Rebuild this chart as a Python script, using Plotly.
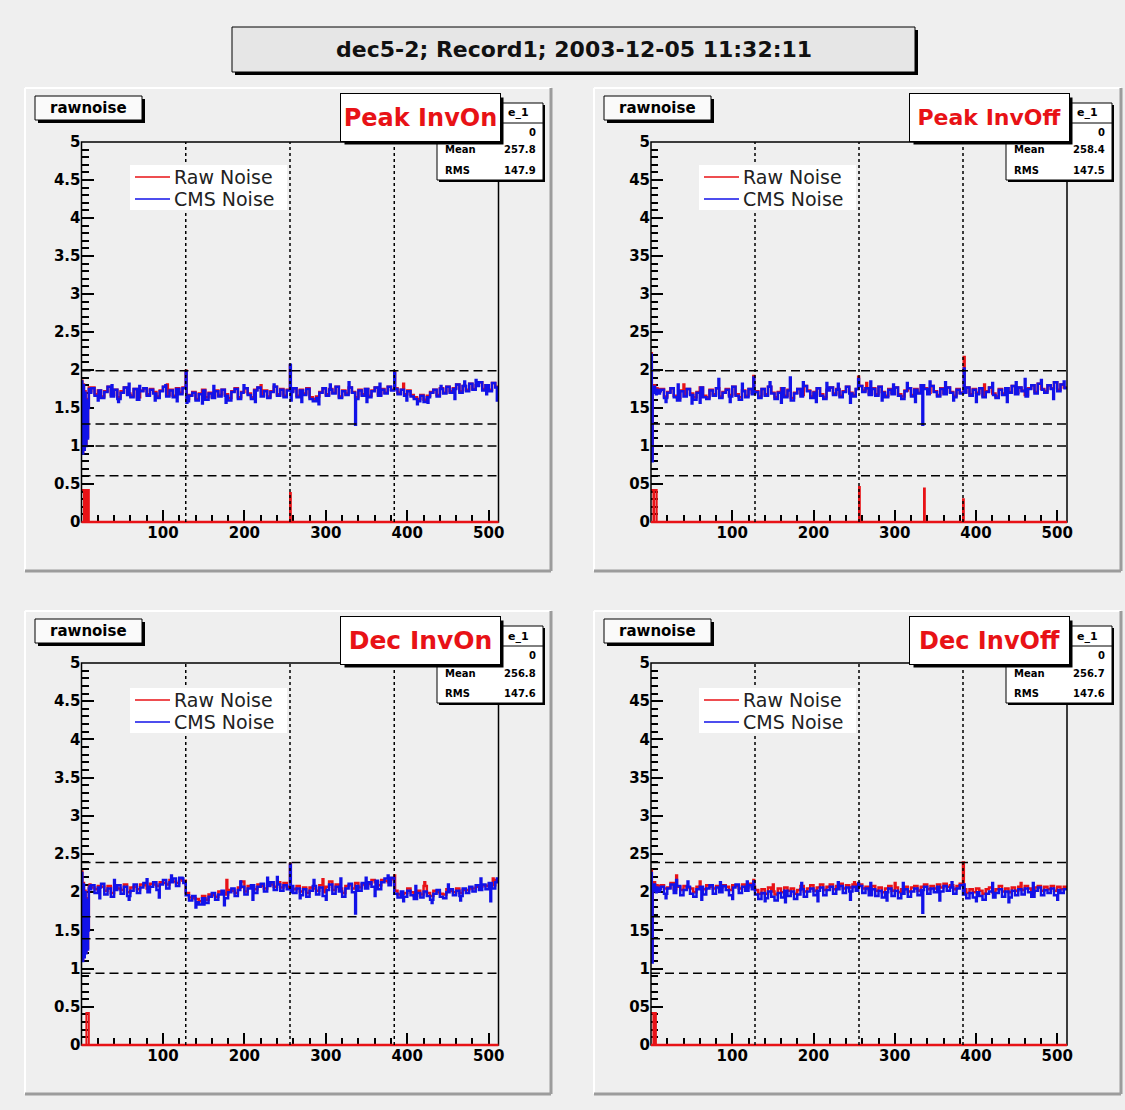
import plotly.graph_objects as go

# ---------------- text ----------------
title_text = "dec5-2; Record1; 2003-12-05 11:32:11"
hist_title = "rawnoise"
stats_title_visible = "e_1"          # visible tail of the stats title (rest hidden behind the label box)
panel_labels = ["Peak InvOn", "Peak InvOff", "Dec InvOn", "Dec InvOff"]
legend_names = ["Raw Noise", "CMS Noise"]
stats_labels = ["", "Mean", "RMS"]
stats_entries = ["0", "0", "0", "0"]
stats_mean = ["257.8", "258.4", "256.8", "256.7"]
stats_rms = ["147.9", "147.5", "147.6", "147.6"]

# ---------------- axes ----------------
n_strips = 512
bin_width = 4      # body values each cover 4 strips (after the 12 head strips)
x_tick_vals = [100, 200, 300, 400, 500]
x_tick_text = ["100", "200", "300", "400", "500"]
y_tick_vals = [0, 0.5, 1, 1.5, 2, 2.5, 3, 3.5, 4, 4.5, 5]
y_tick_text_a = ["0", "0.5", "1", "1.5", "2", "2.5", "3", "3.5", "4", "4.5", "5"]
y_tick_text_b = ["0", "05", "1", "15", "2", "25", "3", "35", "4", "45", "5"]
chip_edges = [128, 256, 384]
thresholds = [[1.99, 1.29, 1.00, 0.61],
              [1.99, 1.29, 1.00, 0.61],
              [2.39, 1.68, 1.39, 0.94],
              [2.39, 1.68, 1.39, 0.94]]

# ---------------- Peak InvOn ----------------
p1_cms_head = [1.85, 0.90, 1.80, 0.95, 1.70, 1.00, 1.60, 1.10, 1.50, 1.75, 1.72, 1.70]
p1_cms_body = [
    1.76, 1.66, 1.73, 1.63, 1.71, 1.78, 1.65, 1.74, 1.62, 1.70,
    1.77, 1.67, 1.64, 1.75, 1.61, 1.72, 1.76, 1.66, 1.74, 1.69,
    1.63, 1.72, 1.78, 1.65, 1.73, 1.64, 1.75, 1.68, 1.76,
    1.59, 1.66, 1.70, 1.60, 1.68, 1.73, 1.61, 1.69, 1.63, 1.72,
    1.65, 1.74, 1.66, 1.60, 1.71, 1.75, 1.62, 1.70, 1.76, 1.67,
    1.62, 1.73, 1.77, 1.65, 1.72, 1.63, 1.71, 1.78, 1.66, 1.74,
    1.64, 1.73,
    1.71, 1.76, 1.64, 1.73, 1.67, 1.75, 1.62, 1.59, 1.63, 1.70,
    1.76, 1.66, 1.74, 1.69, 1.78, 1.63, 1.72, 1.67, 1.77, 1.70,
    1.62, 1.73, 1.66, 1.75, 1.64, 1.72, 1.77, 1.66, 1.74, 1.69,
    1.78, 1.73,
    1.75, 1.68, 1.74, 1.66, 1.72, 1.65, 1.62, 1.59, 1.66, 1.58,
    1.64, 1.70, 1.74, 1.65, 1.75, 1.69, 1.78, 1.70, 1.75, 1.81,
    1.70, 1.79, 1.72, 1.82, 1.74, 1.79, 1.84, 1.73, 1.80, 1.72,
    1.83, 1.77]
p1_cms_spike_strips = [58, 128, 129, 148, 256, 257, 328, 336, 384, 484, 510,
                       20, 37, 45, 71, 90, 103, 117, 162, 177, 199, 213, 236,
                       270, 291, 305, 350, 366, 399, 412, 425, 441, 458, 470, 497]
p1_cms_spike_vals = [1.82, 1.98, 1.57, 1.56, 2.07, 1.60, 1.84, 1.28, 1.96, 1.87, 1.60,
                     1.60, 1.80, 1.58, 1.79, 1.60, 1.80, 1.59, 1.79, 1.57, 1.80, 1.58, 1.81,
                     1.58, 1.55, 1.81, 1.58, 1.82, 1.60, 1.55, 1.57, 1.79, 1.62, 1.85, 1.68]
p1_raw_head = [1.86, 0.92, 1.81, 0.97, 1.72, 1.02, 1.62, 1.12, 1.52, 1.77, 1.74, 1.72]
p1_raw_body = [
    1.77, 1.68, 1.73, 1.65, 1.72, 1.78, 1.67, 1.74, 1.64, 1.72,
    1.77, 1.69, 1.66, 1.75, 1.64, 1.73, 1.76, 1.68, 1.75, 1.71,
    1.65, 1.73, 1.78, 1.67, 1.74, 1.66, 1.76, 1.70, 1.77,
    1.62, 1.67, 1.71, 1.62, 1.69, 1.74, 1.64, 1.70, 1.65, 1.73,
    1.67, 1.74, 1.68, 1.63, 1.72, 1.76, 1.64, 1.71, 1.76, 1.69,
    1.64, 1.74, 1.77, 1.67, 1.73, 1.65, 1.72, 1.78, 1.68, 1.75,
    1.66, 1.74,
    1.73, 1.76, 1.66, 1.74, 1.69, 1.76, 1.64, 1.62, 1.65, 1.71,
    1.76, 1.68, 1.75, 1.70, 1.78, 1.65, 1.73, 1.69, 1.77, 1.71,
    1.64, 1.74, 1.68, 1.75, 1.66, 1.73, 1.77, 1.68, 1.75, 1.70,
    1.78, 1.74,
    1.76, 1.70, 1.74, 1.68, 1.73, 1.67, 1.64, 1.62, 1.67, 1.61,
    1.66, 1.71, 1.74, 1.67, 1.76, 1.70, 1.78, 1.72, 1.76, 1.81,
    1.72, 1.79, 1.74, 1.82, 1.75, 1.80, 1.84, 1.75, 1.80, 1.74,
    1.83, 1.78]
p1_raw_spike_strips = [128, 256, 384, 105, 220, 395]
p1_raw_spike_vals = [1.99, 2.06, 1.97, 1.81, 1.80, 1.82]
p1_flag_strips = [0, 1, 2, 4, 5, 7, 8, 256]
p1_flag_vals = [0.42, 0.42, 0.42, 0.42, 0.42, 0.42, 0.42, 0.38]

# ---------------- Peak InvOff ----------------
p2_cms_head = [2.20, 0.80, 1.75, 1.70, 1.78, 1.72, 1.68, 1.74, 1.70, 1.73, 1.69, 1.72]
p2_cms_body = [
    1.74, 1.63, 1.70, 1.76, 1.64, 1.60, 1.72, 1.65, 1.75, 1.67,
    1.61, 1.70, 1.77, 1.64, 1.62, 1.73, 1.66, 1.76, 1.63, 1.70,
    1.74, 1.65, 1.78, 1.66, 1.61, 1.72, 1.64, 1.75, 1.68,
    1.71, 1.63, 1.75, 1.66, 1.78, 1.69, 1.62, 1.70, 1.76, 1.64,
    1.73, 1.60, 1.69, 1.75, 1.65, 1.79, 1.72, 1.63, 1.70, 1.76,
    1.66, 1.62, 1.73, 1.77, 1.67, 1.74, 1.64, 1.71, 1.78, 1.69,
    1.65, 1.75,
    1.79, 1.71, 1.76, 1.67, 1.75, 1.66, 1.78, 1.70, 1.64, 1.74,
    1.68, 1.77, 1.66, 1.62, 1.72, 1.76, 1.65, 1.74, 1.69, 1.80,
    1.75, 1.68, 1.79, 1.71, 1.65, 1.75, 1.68, 1.77, 1.70, 1.64,
    1.74, 1.69,
    1.70, 1.77, 1.66, 1.74, 1.68, 1.76, 1.64, 1.71, 1.77, 1.67,
    1.63, 1.74, 1.67, 1.76, 1.70, 1.79, 1.68, 1.77, 1.72, 1.65,
    1.75, 1.80, 1.69, 1.82, 1.74, 1.70, 1.80, 1.75, 1.84, 1.72,
    1.81, 1.76]
p2_cms_spike_strips = [60, 83, 126, 146, 171, 216, 255, 298, 334, 343, 385, 460, 480, 508,
                       18, 33, 50, 97, 112, 160, 187, 203, 230, 245, 270, 284,
                       315, 325, 362, 372, 400, 420, 438, 449, 495]
p2_cms_spike_vals = [1.57, 1.88, 1.90, 1.84, 1.90, 1.83, 1.88, 1.81, 1.28, 1.85, 2.02, 1.88, 1.87, 1.85,
                     1.58, 1.81, 1.56, 1.58, 1.82, 1.57, 1.84, 1.58, 1.82, 1.57, 1.85, 1.60,
                     1.83, 1.58, 1.84, 1.60, 1.58, 1.83, 1.58, 1.84, 1.62]
p2_raw_head = [2.22, 0.85, 1.78, 1.73, 1.80, 1.75, 1.70, 1.76, 1.72, 1.75, 1.71, 1.74]
p2_raw_body = [
    1.75, 1.65, 1.71, 1.76, 1.66, 1.63, 1.73, 1.67, 1.75, 1.69,
    1.64, 1.71, 1.77, 1.66, 1.64, 1.74, 1.68, 1.76, 1.65, 1.71,
    1.75, 1.67, 1.78, 1.68, 1.64, 1.73, 1.66, 1.75, 1.70,
    1.72, 1.65, 1.75, 1.68, 1.78, 1.70, 1.64, 1.71, 1.76, 1.66,
    1.74, 1.63, 1.70, 1.75, 1.67, 1.79, 1.73, 1.65, 1.71, 1.76,
    1.68, 1.64, 1.74, 1.77, 1.69, 1.75, 1.66, 1.72, 1.78, 1.70,
    1.67, 1.75,
    1.79, 1.73, 1.76, 1.69, 1.76, 1.68, 1.78, 1.71, 1.66, 1.75,
    1.70, 1.77, 1.68, 1.65, 1.73, 1.76, 1.67, 1.75, 1.70, 1.80,
    1.76, 1.70, 1.79, 1.72, 1.67, 1.76, 1.70, 1.77, 1.71, 1.66,
    1.75, 1.70,
    1.71, 1.77, 1.68, 1.75, 1.70, 1.76, 1.66, 1.72, 1.77, 1.69,
    1.65, 1.75, 1.69, 1.76, 1.71, 1.79, 1.70, 1.77, 1.73, 1.67,
    1.76, 1.80, 1.71, 1.82, 1.75, 1.72, 1.80, 1.76, 1.84, 1.74,
    1.81, 1.77]
p2_raw_spike_strips = [126, 255, 385, 40, 265, 410]
p2_raw_spike_vals = [1.92, 1.91, 2.17, 1.81, 1.83, 1.81]
p2_flag_strips = [0, 1, 2, 4, 5, 6, 256, 336, 384]
p2_flag_vals = [0.42, 0.42, 0.42, 0.42, 0.42, 0.42, 0.46, 0.44, 0.30]

# ---------------- Dec InvOn ----------------
p3_cms_head = [2.25, 1.10, 2.10, 1.15, 2.00, 1.20, 1.90, 1.25, 1.50, 2.05, 2.08, 2.04]
p3_cms_body = [
    2.09, 1.99, 2.06, 2.11, 1.97, 2.05, 1.94, 2.03, 2.09, 1.98,
    2.07, 1.95, 2.02, 2.10, 1.99, 2.06, 2.12, 2.00, 2.07, 2.13,
    2.03, 2.10, 2.16, 2.05, 2.13, 2.18, 2.08, 2.19, 2.12,
    1.96, 1.89, 1.95, 1.87, 1.84, 1.92, 1.86, 1.94, 1.99, 1.90,
    1.97, 2.02, 1.92, 2.00, 2.05, 1.95, 2.03, 2.07, 1.97, 2.05,
    2.09, 1.99, 2.07, 2.11, 2.01, 2.08, 2.13, 2.03, 2.10, 2.02,
    2.09, 2.04,
    2.08, 1.99, 2.05, 1.96, 2.04, 1.94, 2.02, 2.08, 1.97, 2.06,
    1.95, 2.03, 2.10, 1.98, 2.07, 2.01, 1.94, 2.05, 2.11, 2.00,
    2.08, 2.02, 2.12, 2.05, 2.13, 2.07, 2.15, 2.04, 2.13, 2.18,
    2.09, 2.19,
    1.98, 1.93, 2.01, 1.94, 2.02, 1.96, 1.91, 1.99, 1.93, 2.01,
    1.95, 1.90, 1.98, 2.03, 1.94, 1.92, 2.00, 2.04, 1.96, 2.02,
    1.95, 2.05, 1.99, 2.07, 2.01, 2.09, 2.03, 2.10, 2.04, 2.12,
    2.05, 2.13]
p3_cms_spike_strips = [124, 150, 228, 256, 257, 336, 349, 376, 502, 510,
                       22, 40, 58, 80, 95, 110, 140, 175, 195, 210, 240,
                       268, 285, 300, 318, 360, 395, 410, 430, 450, 465, 490]
p3_cms_spike_vals = [2.18, 1.84, 2.19, 2.36, 2.00, 1.72, 2.19, 2.22, 1.88, 2.18,
                     1.92, 2.16, 1.90, 2.17, 1.93, 2.22, 1.80, 1.83, 2.14, 1.90, 2.20,
                     1.92, 2.16, 1.90, 2.18, 1.95, 1.88, 2.08, 1.86, 2.10, 1.89, 2.18]
p3_raw_head = [2.27, 1.12, 2.12, 1.17, 2.02, 1.22, 1.92, 1.27, 1.52, 2.07, 2.10, 2.06]
p3_raw_body = [
    2.06, 2.04, 2.08, 2.07, 2.02, 2.08, 1.99, 2.06, 2.05, 2.03,
    2.10, 2.00, 2.06, 2.07, 2.04, 2.10, 2.09, 2.05, 2.11, 2.10,
    2.08, 2.13, 2.12, 2.10, 2.16, 2.14, 2.12, 2.17, 2.15,
    1.99, 1.93, 1.92, 1.91, 1.88, 1.95, 1.90, 1.97, 1.96, 1.94,
    2.01, 1.99, 1.97, 2.03, 2.02, 1.99, 2.06, 2.14, 2.01, 2.08,
    2.06, 2.04, 2.10, 2.08, 2.05, 2.11, 2.10, 2.07, 2.13, 2.06,
    2.12, 2.07,
    2.05, 2.04, 2.08, 2.01, 2.06, 1.99, 2.06, 2.05, 2.02, 2.09,
    2.00, 2.07, 2.14, 2.03, 2.10, 2.05, 1.99, 2.08, 2.09, 2.05,
    2.12, 2.06, 2.10, 2.09, 2.11, 2.16, 2.13, 2.09, 2.16, 2.15,
    2.13, 2.17,
    2.02, 1.97, 1.98, 1.99, 2.05, 2.00, 1.95, 2.02, 1.97, 2.08,
    1.99, 1.95, 2.02, 2.00, 1.98, 1.97, 2.04, 2.02, 2.00, 2.05,
    1.99, 2.03, 2.03, 2.05, 2.05, 2.07, 2.07, 2.09, 2.08, 2.10,
    2.09, 2.16]
p3_raw_spike_strips = [256, 384, 178, 296, 421, 505]
p3_raw_spike_vals = [2.37, 2.22, 2.16, 2.17, 2.13, 2.18]
p3_flag_strips = [6, 7, 8]
p3_flag_vals = [0.42, 0.42, 0.42]

# ---------------- Dec InvOff ----------------
p4_cms_head = [2.25, 1.08, 2.05, 2.02, 2.10, 2.04, 2.00, 2.06, 2.02, 2.05, 2.01, 2.04]
p4_cms_body = [
    2.07, 1.98, 2.05, 2.10, 1.99, 2.08, 1.96, 2.03, 2.07, 1.98,
    1.94, 2.04, 2.07, 1.97, 2.05, 2.09, 1.98, 2.06, 2.00, 2.08,
    2.03, 1.96, 2.06, 2.10, 1.99, 2.07, 2.02, 2.09, 2.04,
    1.97, 1.91, 1.99, 1.92, 2.01, 1.94, 1.89, 1.99, 1.93, 2.02,
    1.95, 2.01, 1.91, 1.97, 2.04, 1.94, 2.01, 2.05, 1.96, 2.02,
    2.06, 1.96, 2.03, 2.07, 1.98, 2.04, 2.08, 1.99, 2.06, 2.01,
    2.07, 2.02,
    2.08, 1.99, 2.05, 1.96, 2.04, 1.95, 2.02, 1.93, 2.00, 2.05,
    1.95, 2.02, 1.92, 1.98, 2.04, 1.94, 2.01, 2.05, 1.96, 2.03,
    2.07, 1.98, 2.05, 2.00, 2.07, 2.01, 2.08, 2.02, 2.06, 1.98,
    2.05, 2.09,
    1.97, 1.92, 1.99, 1.93, 2.00, 1.95, 1.90, 1.98, 2.01, 1.93,
    1.99, 2.04, 1.94, 2.01, 1.93, 2.02, 1.96, 2.04, 1.97, 2.05,
    2.00, 1.94, 2.02, 2.06, 1.96, 2.03, 1.99, 2.05, 1.96, 2.03,
    1.99, 2.04]
p4_cms_spike_strips = [31, 126, 255, 334, 385,
                       18, 45, 62, 85, 100, 118, 140, 165, 185, 205, 230,
                       245, 270, 290, 310, 355, 370, 400, 420, 440, 470, 500]
p4_cms_spike_vals = [2.16, 2.14, 2.12, 1.73, 2.10,
                     1.92, 2.14, 1.90, 2.13, 1.91, 2.14, 1.88, 1.87, 2.12, 1.88, 2.13,
                     1.90, 2.12, 1.89, 2.12, 1.89, 2.13, 1.88, 2.12, 1.87, 2.12, 1.90]
p4_raw_head = [2.28, 1.11, 2.08, 2.05, 2.13, 2.07, 2.03, 2.09, 2.05, 2.08, 2.04, 2.07]
p4_raw_body = [
    2.09, 2.05, 2.06, 2.12, 2.04, 2.07, 2.03, 2.08, 2.06, 2.05,
    2.00, 2.07, 2.05, 2.04, 2.09, 2.07, 2.05, 2.08, 2.06, 2.09,
    2.07, 2.03, 2.09, 2.08, 2.05, 2.10, 2.06, 2.11, 2.07,
    2.03, 1.98, 2.04, 1.98, 2.06, 2.01, 1.97, 2.05, 2.00, 2.06,
    2.02, 2.05, 1.98, 2.03, 2.08, 2.01, 2.05, 2.09, 2.02, 2.06,
    2.10, 2.03, 2.07, 2.10, 2.04, 2.08, 2.11, 2.05, 2.09, 2.06,
    2.10, 2.06,
    2.10, 2.05, 2.07, 2.03, 2.08, 2.02, 2.06, 2.00, 2.05, 2.08,
    2.02, 2.06, 2.00, 2.04, 2.07, 2.01, 2.06, 2.08, 2.02, 2.07,
    2.10, 2.04, 2.08, 2.05, 2.10, 2.06, 2.11, 2.07, 2.09, 2.04,
    2.08, 2.11,
    2.04, 1.99, 2.04, 2.00, 2.05, 2.02, 1.98, 2.04, 2.06, 2.00,
    2.04, 2.08, 2.01, 2.05, 2.00, 2.06, 2.02, 2.07, 2.03, 2.08,
    2.05, 2.00, 2.06, 2.08, 2.02, 2.07, 2.04, 2.08, 2.02, 2.07,
    2.04, 2.07]
p4_raw_spike_strips = [31, 126, 384, 60, 150, 250, 300, 455]
p4_raw_spike_vals = [2.22, 2.16, 2.39, 2.14, 2.10, 2.13, 2.12, 2.12]
p4_flag_strips = [0, 1, 2, 4, 5]
p4_flag_vals = [0.42, 0.42, 0.42, 0.42, 0.42]


def build(head, body, spike_strips, spike_vals):
    arr = list(head)
    for v in body:
        arr.extend([v] * bin_width)
    arr = arr[:n_strips]
    for s, v in zip(spike_strips, spike_vals):
        if s < len(arr):
            arr[s] = v
    return arr


def build_flags(strips, vals):
    arr = [0.0] * n_strips
    for s, v in zip(strips, vals):
        arr[s] = v
    return arr


panels = [
    dict(raw=build(p1_raw_head, p1_raw_body, p1_raw_spike_strips, p1_raw_spike_vals),
         cms=build(p1_cms_head, p1_cms_body, p1_cms_spike_strips, p1_cms_spike_vals),
         flag=build_flags(p1_flag_strips, p1_flag_vals)),
    dict(raw=build(p2_raw_head, p2_raw_body, p2_raw_spike_strips, p2_raw_spike_vals),
         cms=build(p2_cms_head, p2_cms_body, p2_cms_spike_strips, p2_cms_spike_vals),
         flag=build_flags(p2_flag_strips, p2_flag_vals)),
    dict(raw=build(p3_raw_head, p3_raw_body, p3_raw_spike_strips, p3_raw_spike_vals),
         cms=build(p3_cms_head, p3_cms_body, p3_cms_spike_strips, p3_cms_spike_vals),
         flag=build_flags(p3_flag_strips, p3_flag_vals)),
    dict(raw=build(p4_raw_head, p4_raw_body, p4_raw_spike_strips, p4_raw_spike_vals),
         cms=build(p4_cms_head, p4_cms_body, p4_cms_spike_strips, p4_cms_spike_vals),
         flag=build_flags(p4_flag_strips, p4_flag_vals)),
]

# ---------------- layout geometry (pixels) ----------------
W, H = 1125, 1110
BG = "#efefef"
RED = "rgb(232,18,22)"
BLUE = "rgb(18,18,232)"
frames = [(81.5, 142, 498.5, 522), (651, 142, 1067, 522),
          (81.5, 663, 498.5, 1045), (651, 663, 1067, 1045)]
pads = [(25, 88, 551, 571), (594, 88, 1121, 571),
        (25, 611, 551, 1094), (594, 611, 1121, 1094)]
label_sizes = [24, 22, 25, 24]
ytext = [y_tick_text_a, y_tick_text_b, y_tick_text_a, y_tick_text_b]


def px(x):
    return x / W


def py(y):
    return 1 - y / H


shapes = []
annotations = []


def rect(x0, y0, x1, y1, fill=None, line_color=None, lw=1, layer="above"):
    d = dict(type="rect", xref="paper", yref="paper",
             x0=px(x0), x1=px(x1), y0=py(y1), y1=py(y0), layer=layer,
             line=dict(color=line_color or "rgba(0,0,0,0)", width=lw if line_color else 0))
    if fill:
        d["fillcolor"] = fill
    shapes.append(d)


def pline(x0, y0, x1, y1, color, lw=1, dash="solid", layer="above"):
    shapes.append(dict(type="line", xref="paper", yref="paper",
                       x0=px(x0), x1=px(x1), y0=py(y0), y1=py(y1), layer=layer,
                       line=dict(color=color, width=lw, dash=dash)))


def text(x, y, s, size, color="black", bold=False, family="DejaVu Sans",
         xanchor="center", **kw):
    if not s:
        return
    annotations.append(dict(xref="paper", yref="paper", x=px(x), y=py(y), text=s,
                            showarrow=False, xanchor=xanchor, yanchor="middle",
                            font=dict(family=family, size=size, color=color,
                                      weight="bold" if bold else "normal"), **kw))


fig = go.Figure()

# title box
rect(235, 30, 918, 75, fill="black", layer="below")
rect(232, 27, 915, 72, fill="#e6e6e6", line_color="black", lw=1, layer="below")
text(573.5, 49.5, title_text, 22, color="#111", bold=True)

for i, p in enumerate(panels):
    n = "" if i == 0 else str(i + 1)
    xa, ya = "x" + n, "y" + n
    fx0, fy0, fx1, fy1 = frames[i]
    ax, ay, bx, by = pads[i]

    # pad bevel
    pline(ax, ay, bx, ay, "white", 2, layer="below")
    pline(ax, ay, ax, by, "white", 2, layer="below")
    pline(ax, by, bx, by, "#9c9c9c", 3, layer="below")
    pline(bx, ay, bx, by, "#9c9c9c", 3, layer="below")

    strips = list(range(n_strips + 1))
    for key, color, lw in (("raw", RED, 2.5), ("flag", RED, 2), ("cms", BLUE, 2.5)):
        vals = p[key]
        fig.add_trace(go.Scatter(x=strips, y=vals + [vals[-1]], mode="lines",
                                 line=dict(color=color, width=lw, shape="hv"),
                                 xaxis=xa, yaxis=ya, showlegend=False,
                                 hoverinfo="skip"))

    axis_common = dict(showgrid=False, zeroline=False, showline=False, automargin=False,
                       ticks="inside", ticklen=12, tickwidth=1.5, tickcolor="black",
                       tickfont=dict(family="DejaVu Sans", size=15, color="black",
                                     weight="bold"))
    fig.update_layout(**{
        ("xaxis" + n): dict(domain=[px(fx0), px(fx1)], range=[0, n_strips], anchor=ya,
                            tickmode="array", tickvals=x_tick_vals, ticktext=x_tick_text,
                            minor=dict(ticks="inside", ticklen=7, tickwidth=1.5,
                                       tickcolor="black", tickmode="linear",
                                       tick0=0, dtick=20, showgrid=False),
                            layer="below traces", **axis_common),
        ("yaxis" + n): dict(domain=[py(fy1), py(fy0)], range=[0, 5], anchor=xa,
                            tickmode="array", tickvals=y_tick_vals, ticktext=ytext[i],
                            minor=dict(ticks="inside", ticklen=7, tickwidth=1.5,
                                       tickcolor="black", tickmode="linear",
                                       tick0=0, dtick=0.1, showgrid=False),
                            layer="below traces", **axis_common),
    })

    # frame
    rect(fx0, fy0, fx1, fy1, line_color="black", lw=1.5)
    pline(fx0, fy1, fx1, fy1, RED, 2.5)

    # chip boundaries (dotted) and thresholds (dashed)
    for c in chip_edges:
        shapes.append(dict(type="line", xref=xa, yref=ya, x0=c, x1=c, y0=0, y1=5,
                           layer="above", line=dict(color="black", width=1.5, dash="3px,3px")))
    for t in thresholds[i]:
        shapes.append(dict(type="line", xref=xa, yref=ya, x0=0, x1=n_strips, y0=t, y1=t,
                           layer="above", line=dict(color="black", width=1.5, dash="9px,5px")))

    # legend
    rect(ax + 105, ay + 77, ax + 262, ay + 122, fill="white")
    pline(ax + 110, ay + 89, ax + 145, ay + 89, RED, 1.5)
    pline(ax + 110, ay + 111, ax + 145, ay + 111, BLUE, 1.5)
    text(ax + 147, ay + 89, legend_names[0], 19, color="#222", xanchor="left")
    text(ax + 147, ay + 111, legend_names[1], 19, color="#222", xanchor="left")

    # histogram title box
    rect(ax + 13, ay + 11, ax + 120, ay + 35, fill="black")
    rect(ax + 10, ay + 8, ax + 117, ay + 32, fill="#fafafa", line_color="black", lw=1)
    text(ax + 63, ay + 20, hist_title, 15, bold=True)

    # stats box
    rect(ax + 414, ay + 17, ax + 520, ay + 94, fill="black")
    rect(ax + 412, ay + 15, ax + 518, ay + 92, fill="white", line_color="black", lw=1)
    pline(ax + 412, ay + 35, ax + 518, ay + 35, "black", 1)
    text(ax + 481, ay + 25, stats_title_visible, 11, bold=True, xanchor="left")
    rows = [stats_entries[i], stats_mean[i], stats_rms[i]]
    for lab, val, yy in zip(stats_labels, rows, (44, 62, 82)):
        text(ax + 418, ay + yy, lab, 10, bold=True, xanchor="left")
        text(ax + 513, ay + yy, val, 10, bold=True, xanchor="right")

    # label box (drawn over the stats box)
    rect(ax + 319.5, ay + 9.5, ax + 478.5, ay + 56.5, fill="black")
    annotations.append(dict(xref="paper", yref="paper", x=px(ax + 395), y=py(ay + 29),
                            text=panel_labels[i], showarrow=False,
                            xanchor="center", yanchor="middle",
                            width=159, height=47, borderpad=0, align="center",
                            bgcolor="white", bordercolor="black", borderwidth=1,
                            font=dict(family="DejaVu Sans", size=label_sizes[i],
                                      color=RED, weight="bold")))

fig.update_layout(template="none", width=W, height=H, autosize=False,
                  margin=dict(l=0, r=0, t=0, b=0, pad=0, autoexpand=False),
                  paper_bgcolor=BG, plot_bgcolor="rgba(0,0,0,0)",
                  shapes=shapes, annotations=annotations, showlegend=False)

post_js = """
document.documentElement.style.margin='0';
document.body.style.margin='0';
document.body.style.overflow='hidden';
document.documentElement.style.overflow='hidden';
"""

fig.write_html("out.html", config={"displayModeBar": False}, post_script=post_js)
